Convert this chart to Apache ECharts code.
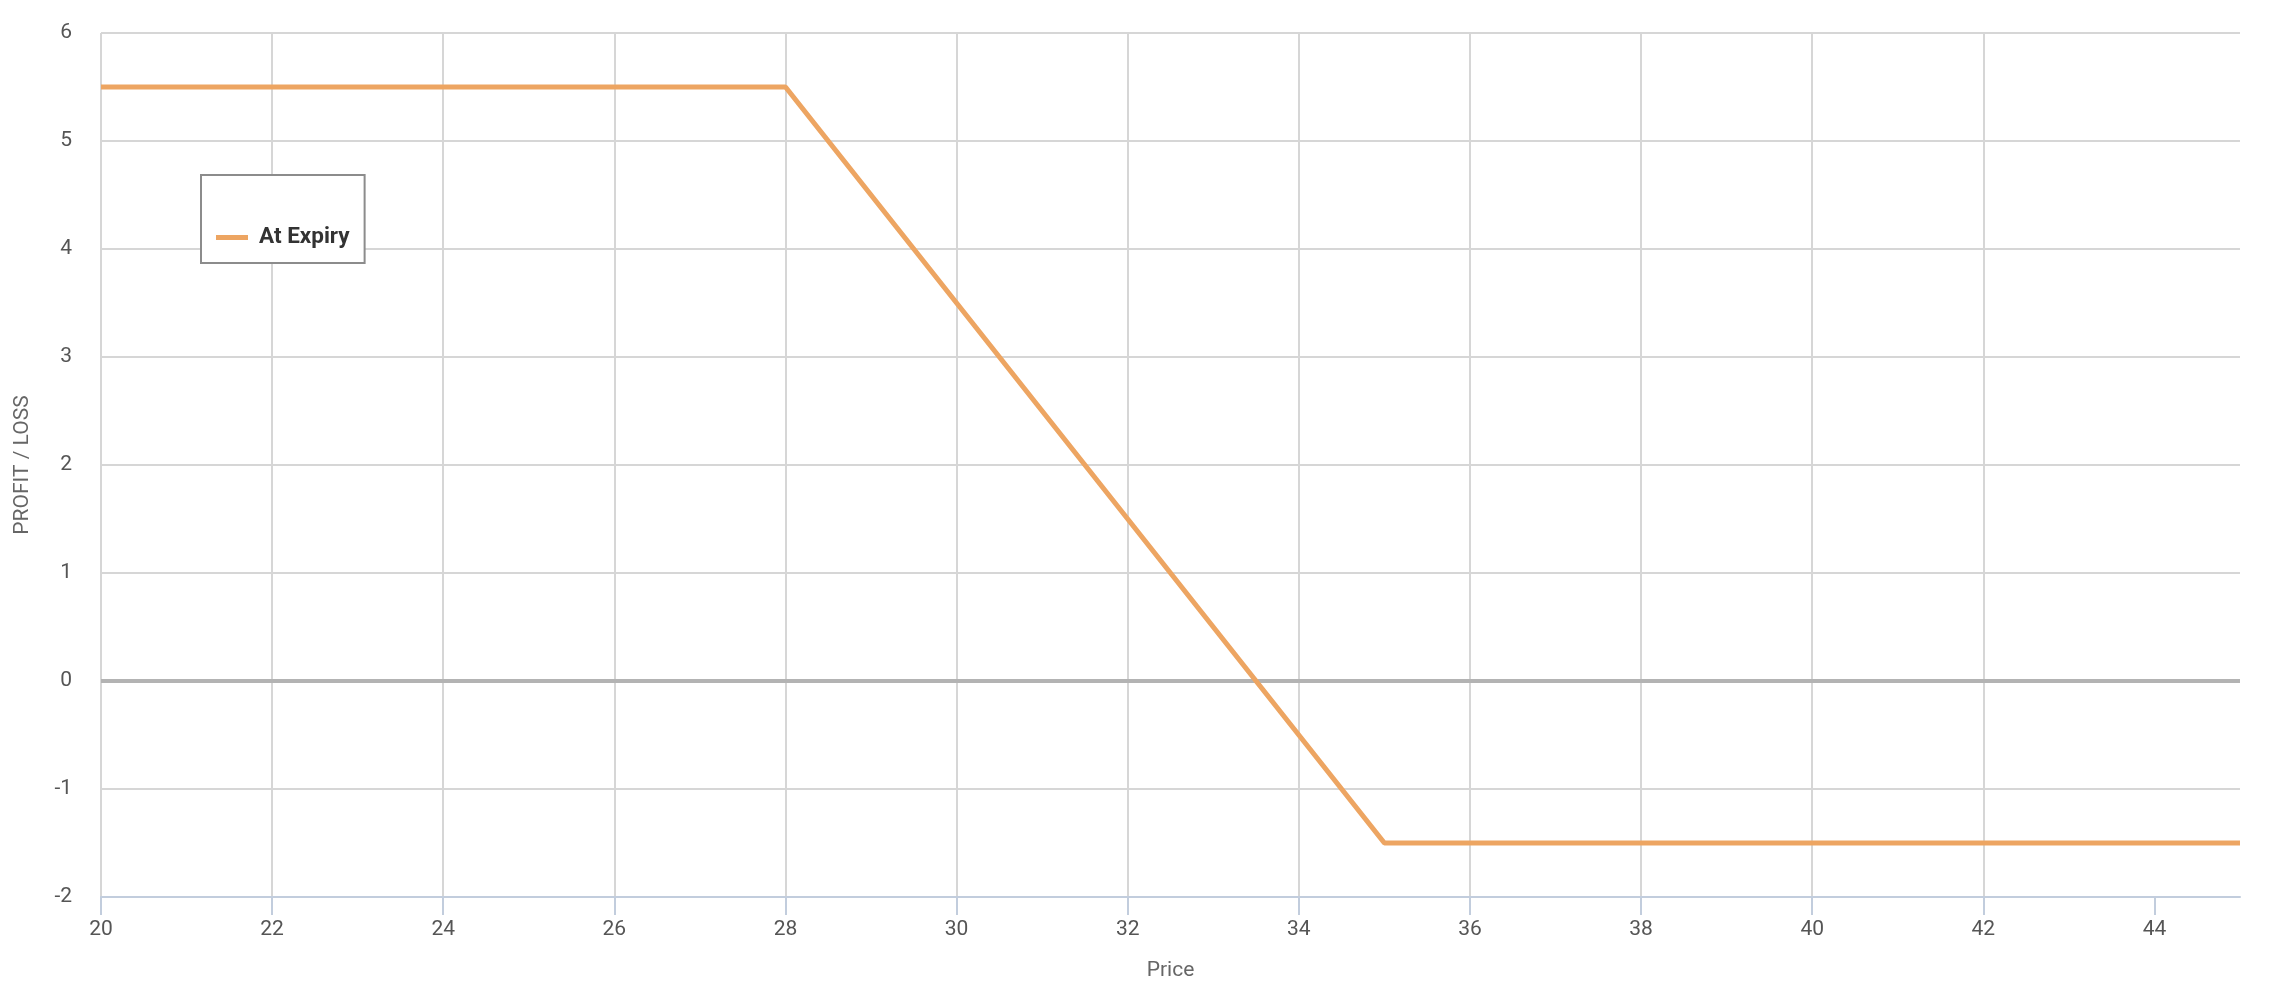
<!DOCTYPE html>
<html>
<head>
<meta charset="utf-8">
<script src="https://cdn.jsdelivr.net/npm/echarts@6/dist/echarts.min.js"></script>
<style>
html,body{margin:0;padding:0;background:#fff;}
#chart{width:2280px;height:994px;}
</style>
</head>
<body>
<div id="chart"></div>
<script>
// Data
const priceValues = [20, 28, 35, 45];
const atExpiryValues = [5.5, 5.5, -1.5, -1.5];
const zeroLineValues = [0, 0];
const zeroLinePrices = [20, 45];
const xTickValues = [20, 22, 24, 26, 28, 30, 32, 34, 36, 38, 40, 42, 44];
const seriesName = 'At Expiry';
const xAxisTitle = 'Price';
const yAxisTitle = 'PROFIT / LOSS';

const FONT = 'Roboto, "Noto Sans", sans-serif';

const chart = echarts.init(document.getElementById('chart'), null, {renderer: 'canvas'});
chart.setOption({
  animation: false,
  backgroundColor: '#fff',
  grid: {left: 101, right: 40, top: 33, bottom: 97, containLabel: false},
  legend: {
    data: [seriesName],
    left: 201, top: 175,
    orient: 'vertical',
    padding: [51, 15, 14, 15],
    borderColor: '#8c8c8c', borderWidth: 2,
    backgroundColor: '#fff',
    icon: 'rect',
    itemWidth: 32, itemHeight: 5,
    textStyle: {fontFamily: FONT, fontSize: 22.5, fontWeight: 'bold', color: '#333', padding: [0, 0, 0, 6]}
  },
  xAxis: {
    type: 'value', min: 20, max: 45, interval: 2,
    name: xAxisTitle, nameLocation: 'middle', nameGap: 63,
    nameTextStyle: {fontFamily: FONT, fontSize: 21, color: '#666'},
    axisLine: {show: true, onZero: false, lineStyle: {color: '#c2cddd', width: 2}},
    axisTick: {show: true, length: 18, lineStyle: {color: '#c2cddd', width: 2}, customValues: xTickValues},
    axisLabel: {fontFamily: FONT, fontSize: 21, color: '#555', margin: 22, customValues: xTickValues},
    splitLine: {show: true, showMaxLine: false, lineStyle: {color: '#d6d6d6', width: 2}}
  },
  yAxis: {
    type: 'value', min: -2, max: 6, interval: 1,
    name: yAxisTitle, nameLocation: 'middle', nameGap: 68, nameRotate: 90,
    nameTextStyle: {fontFamily: FONT, fontSize: 21, color: '#666'},
    axisLine: {show: false},
    axisTick: {show: false},
    axisLabel: {fontFamily: FONT, fontSize: 21, color: '#555', margin: 29},
    splitLine: {show: true, lineStyle: {color: '#d6d6d6', width: 2}}
  },
  series: [
    {
      name: 'zero',
      type: 'line',
      data: zeroLinePrices.map((p, i) => [p, zeroLineValues[i]]),
      showSymbol: false, silent: true,
      lineStyle: {color: '#b3b3b3', width: 4},
      z: 1
    },
    {
      name: seriesName,
      type: 'line',
      data: priceValues.map((p, i) => [p, atExpiryValues[i]]),
      showSymbol: false,
      color: '#eda562',
      lineStyle: {color: '#eda562', width: 5},
      z: 3
    }
  ]
});
</script>
</body>
</html>
